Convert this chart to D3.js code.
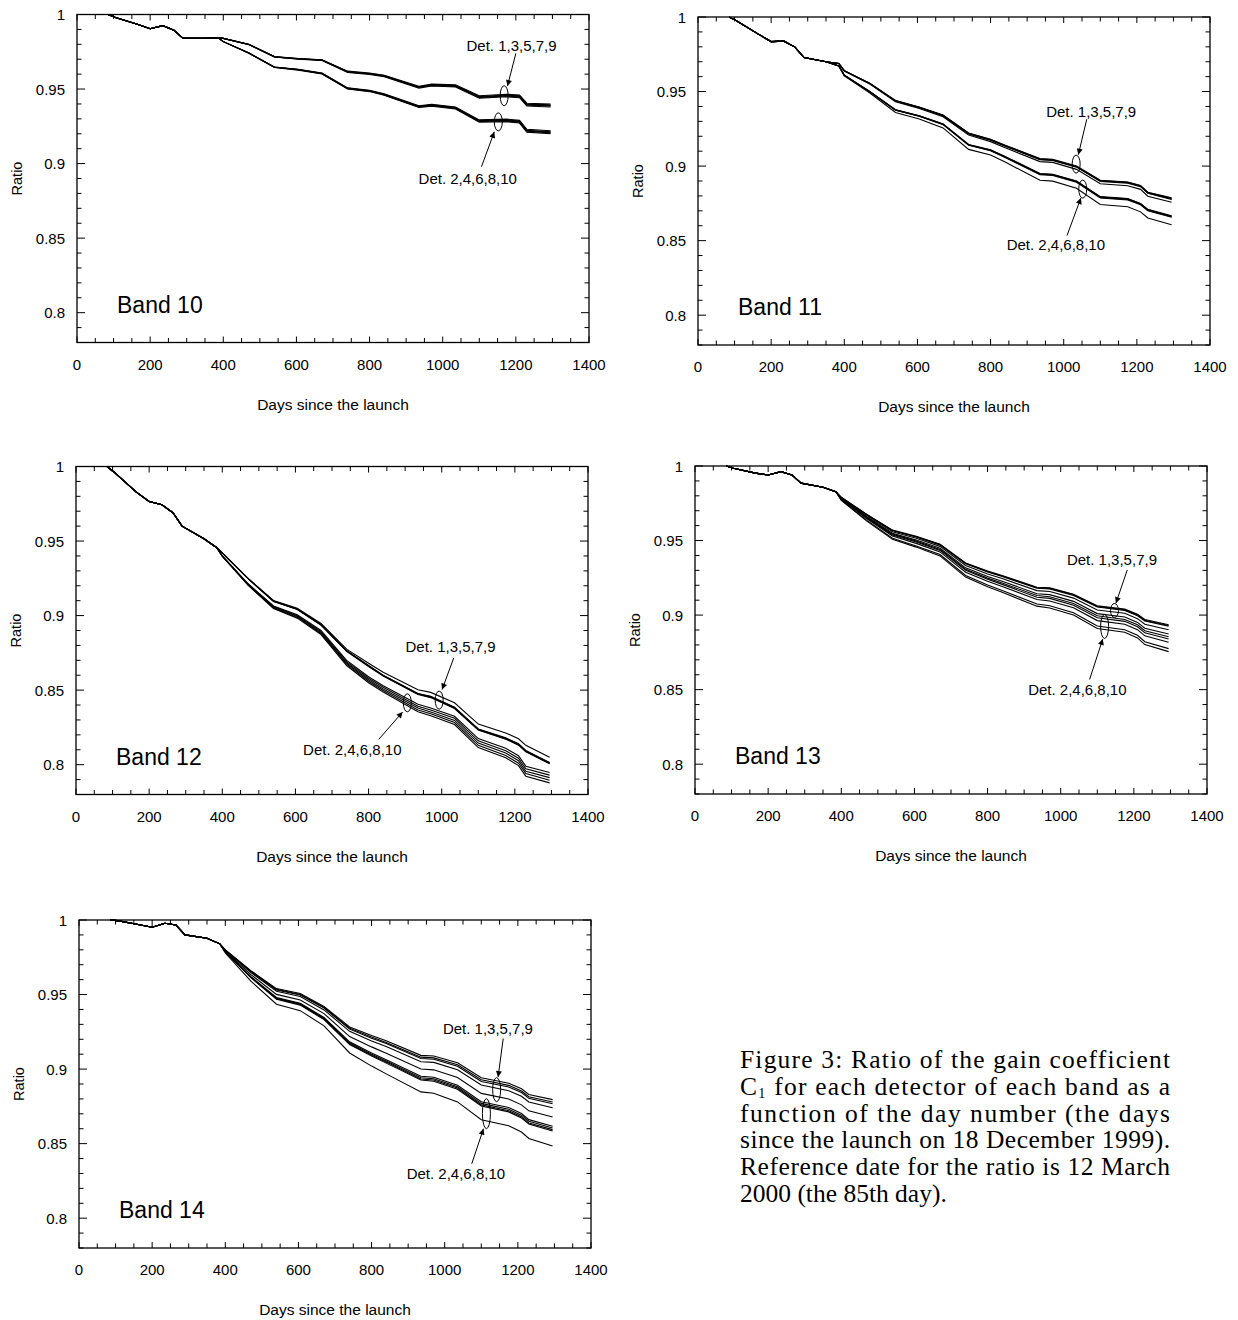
<!DOCTYPE html>
<html>
<head>
<meta charset="utf-8">
<script src="https://cdn.jsdelivr.net/npm/d3@7"></script>
<style>
body { margin: 0; background: #fff; }
svg { display: block; }
.lbl { font-family: "Liberation Sans", Arial, sans-serif; fill: #000; }
.cap { font-family: "Liberation Serif", "Times New Roman", serif; fill: #000; }
</style>
</head>
<body>
<script>
var width = 1238,
	height = 1320;

// panel size in pixels
var pw = 512,
	ph = 328;

// Day numbers shared by every curve
var days = [85, 105, 165, 200, 235, 265, 290, 350, 385, 400, 470, 540, 605, 670, 740, 800, 840, 935, 970, 1035, 1100, 1175, 1210, 1230, 1295];

// detector order inside each band array: odd ones first, then even ones
var detectors = ["1", "3", "5", "7", "9", "2", "4", "6", "8", "10"];

var band10 = [
	[1.000, 0.998, 0.9935, 0.9905, 0.9925, 0.9895, 0.984, 0.984, 0.9845, 0.9840, 0.9800, 0.9718, 0.9705, 0.9697, 0.9620, 0.9607, 0.9593, 0.9518, 0.9533, 0.9528, 0.9455, 0.9465, 0.9460, 0.9405, 0.9400],
	[1.000, 0.998, 0.9935, 0.9905, 0.9925, 0.9895, 0.984, 0.984, 0.9845, 0.9840, 0.9799, 0.9717, 0.9704, 0.9695, 0.9618, 0.9604, 0.9590, 0.9514, 0.9529, 0.9524, 0.9450, 0.9460, 0.9455, 0.9399, 0.9394],
	[1.000, 0.998, 0.9935, 0.9905, 0.9925, 0.9895, 0.984, 0.984, 0.9845, 0.9840, 0.9799, 0.9716, 0.9703, 0.9694, 0.9616, 0.9603, 0.9588, 0.9512, 0.9527, 0.9521, 0.9447, 0.9457, 0.9451, 0.9396, 0.9390],
	[1.000, 0.998, 0.9935, 0.9905, 0.9925, 0.9895, 0.984, 0.984, 0.9845, 0.9840, 0.9799, 0.9716, 0.9702, 0.9693, 0.9614, 0.9601, 0.9586, 0.9510, 0.9524, 0.9518, 0.9444, 0.9453, 0.9447, 0.9392, 0.9386],
	[1.000, 0.998, 0.9935, 0.9905, 0.9925, 0.9895, 0.984, 0.984, 0.9845, 0.9840, 0.9798, 0.9715, 0.9700, 0.9691, 0.9612, 0.9598, 0.9583, 0.9506, 0.9520, 0.9514, 0.9439, 0.9448, 0.9442, 0.9386, 0.9380],
	[1.000, 0.998, 0.9935, 0.9905, 0.9925, 0.9895, 0.984, 0.984, 0.9845, 0.9818, 0.9742, 0.9648, 0.9632, 0.9607, 0.9508, 0.9492, 0.9468, 0.9388, 0.9398, 0.9380, 0.9293, 0.9298, 0.9290, 0.9230, 0.9220],
	[1.000, 0.998, 0.9935, 0.9905, 0.9925, 0.9895, 0.984, 0.984, 0.9845, 0.9818, 0.9741, 0.9647, 0.9631, 0.9605, 0.9506, 0.9489, 0.9465, 0.9384, 0.9394, 0.9376, 0.9288, 0.9293, 0.9285, 0.9224, 0.9214],
	[1.000, 0.998, 0.9935, 0.9905, 0.9925, 0.9895, 0.984, 0.984, 0.9845, 0.9818, 0.9741, 0.9646, 0.9630, 0.9604, 0.9504, 0.9488, 0.9463, 0.9382, 0.9392, 0.9373, 0.9285, 0.9290, 0.9281, 0.9221, 0.9210],
	[1.000, 0.998, 0.9935, 0.9905, 0.9925, 0.9895, 0.984, 0.984, 0.9845, 0.9818, 0.9741, 0.9646, 0.9629, 0.9603, 0.9502, 0.9486, 0.9461, 0.9380, 0.9389, 0.9370, 0.9282, 0.9286, 0.9277, 0.9217, 0.9206],
	[1.000, 0.998, 0.9935, 0.9905, 0.9925, 0.9895, 0.984, 0.984, 0.9845, 0.9818, 0.9740, 0.9645, 0.9627, 0.9601, 0.9500, 0.9483, 0.9458, 0.9376, 0.9385, 0.9366, 0.9277, 0.9281, 0.9272, 0.9211, 0.9200]
];

var band11 = [
	[1.000, 0.9975, 0.9885, 0.9835, 0.9838, 0.9798, 0.9728, 0.9700, 0.9688, 0.9640, 0.9555, 0.9440, 0.9397, 0.9343, 0.9222, 0.9180, 0.9140, 0.9050, 0.9045, 0.9000, 0.8905, 0.8893, 0.8870, 0.8825, 0.8787],
	[1.000, 0.9975, 0.9885, 0.9835, 0.9838, 0.9798, 0.9728, 0.9700, 0.9688, 0.9640, 0.9554, 0.9439, 0.9395, 0.9341, 0.9220, 0.9178, 0.9138, 0.9048, 0.9043, 0.8998, 0.8903, 0.8891, 0.8868, 0.8823, 0.8784],
	[1.000, 0.9975, 0.9885, 0.9835, 0.9838, 0.9798, 0.9728, 0.9700, 0.9688, 0.9639, 0.9553, 0.9437, 0.9393, 0.9339, 0.9217, 0.9175, 0.9135, 0.9045, 0.9040, 0.8995, 0.8900, 0.8888, 0.8865, 0.8820, 0.8780],
	[1.000, 0.9975, 0.9885, 0.9835, 0.9838, 0.9798, 0.9728, 0.9700, 0.9688, 0.9639, 0.9552, 0.9436, 0.9392, 0.9337, 0.9215, 0.9173, 0.9133, 0.9043, 0.9038, 0.8993, 0.8897, 0.8885, 0.8862, 0.8817, 0.8776],
	[1.000, 0.9975, 0.9885, 0.9835, 0.9838, 0.9798, 0.9728, 0.9700, 0.9688, 0.9637, 0.9550, 0.9432, 0.9387, 0.9331, 0.9208, 0.9164, 0.9123, 0.9030, 0.9025, 0.8978, 0.8881, 0.8868, 0.8844, 0.8798, 0.8758],
	[1.000, 0.9975, 0.9885, 0.9835, 0.9838, 0.9798, 0.9728, 0.9700, 0.9672, 0.9610, 0.9500, 0.9378, 0.9338, 0.9283, 0.9145, 0.9110, 0.9065, 0.8950, 0.8945, 0.8900, 0.8795, 0.8782, 0.8750, 0.8710, 0.8667],
	[1.000, 0.9975, 0.9885, 0.9835, 0.9838, 0.9798, 0.9728, 0.9700, 0.9672, 0.9610, 0.9499, 0.9377, 0.9337, 0.9282, 0.9143, 0.9108, 0.9063, 0.8948, 0.8943, 0.8898, 0.8793, 0.8780, 0.8747, 0.8707, 0.8664],
	[1.000, 0.9975, 0.9885, 0.9835, 0.9838, 0.9798, 0.9728, 0.9700, 0.9672, 0.9609, 0.9499, 0.9376, 0.9335, 0.9280, 0.9141, 0.9105, 0.9060, 0.8945, 0.8940, 0.8895, 0.8790, 0.8777, 0.8744, 0.8704, 0.8661],
	[1.000, 0.9975, 0.9885, 0.9835, 0.9838, 0.9798, 0.9728, 0.9700, 0.9672, 0.9609, 0.9498, 0.9375, 0.9334, 0.9278, 0.9139, 0.9103, 0.9058, 0.8942, 0.8937, 0.8891, 0.8786, 0.8773, 0.8740, 0.8700, 0.8657],
	[1.000, 0.9975, 0.9885, 0.9835, 0.9838, 0.9798, 0.9728, 0.9700, 0.9672, 0.9605, 0.9490, 0.9360, 0.9316, 0.9256, 0.9112, 0.9074, 0.9027, 0.8905, 0.8899, 0.8851, 0.8742, 0.8727, 0.8693, 0.8652, 0.8607]
];

var band12 = [
	[1.000, 0.9960, 0.9828, 0.9765, 0.9743, 0.9690, 0.9600, 0.9515, 0.9455, 0.9420, 0.9250, 0.9101, 0.9050, 0.8947, 0.8775, 0.8680, 0.8620, 0.8503, 0.8485, 0.8415, 0.8272, 0.8213, 0.8174, 0.8130, 0.8050],
	[1.000, 0.9960, 0.9828, 0.9765, 0.9743, 0.9690, 0.9600, 0.9515, 0.9455, 0.9420, 0.9250, 0.9098, 0.9045, 0.8940, 0.8765, 0.8665, 0.8600, 0.8478, 0.8458, 0.8385, 0.8240, 0.8180, 0.8140, 0.8095, 0.8015],
	[1.000, 0.9960, 0.9828, 0.9765, 0.9743, 0.9690, 0.9600, 0.9515, 0.9455, 0.9420, 0.9250, 0.9097, 0.9044, 0.8939, 0.8764, 0.8664, 0.8599, 0.8476, 0.8456, 0.8383, 0.8238, 0.8177, 0.8137, 0.8092, 0.8012],
	[1.000, 0.9960, 0.9828, 0.9765, 0.9743, 0.9690, 0.9600, 0.9515, 0.9455, 0.9420, 0.9249, 0.9096, 0.9043, 0.8937, 0.8762, 0.8661, 0.8596, 0.8474, 0.8453, 0.8380, 0.8235, 0.8174, 0.8134, 0.8089, 0.8009],
	[1.000, 0.9960, 0.9828, 0.9765, 0.9743, 0.9690, 0.9600, 0.9515, 0.9455, 0.9420, 0.9249, 0.9095, 0.9041, 0.8936, 0.8760, 0.8659, 0.8594, 0.8471, 0.8450, 0.8377, 0.8232, 0.8171, 0.8131, 0.8086, 0.8006],
	[1.000, 0.9960, 0.9828, 0.9765, 0.9743, 0.9690, 0.9600, 0.9515, 0.9455, 0.9400, 0.9215, 0.9065, 0.9005, 0.8900, 0.8700, 0.8590, 0.8530, 0.8405, 0.8380, 0.8325, 0.8175, 0.8110, 0.8060, 0.7990, 0.7948],
	[1.000, 0.9960, 0.9828, 0.9765, 0.9743, 0.9690, 0.9600, 0.9515, 0.9455, 0.9400, 0.9213, 0.9061, 0.8999, 0.8893, 0.8691, 0.8580, 0.8519, 0.8392, 0.8367, 0.8311, 0.8160, 0.8094, 0.8043, 0.7973, 0.7930],
	[1.000, 0.9960, 0.9828, 0.9765, 0.9743, 0.9690, 0.9600, 0.9515, 0.9455, 0.9399, 0.9210, 0.9056, 0.8994, 0.8886, 0.8682, 0.8570, 0.8508, 0.8380, 0.8354, 0.8297, 0.8145, 0.8078, 0.8027, 0.7956, 0.7913],
	[1.000, 0.9960, 0.9828, 0.9765, 0.9743, 0.9690, 0.9600, 0.9515, 0.9455, 0.9399, 0.9207, 0.9051, 0.8988, 0.8880, 0.8674, 0.8560, 0.8498, 0.8367, 0.8341, 0.8283, 0.8130, 0.8062, 0.8010, 0.7940, 0.7895],
	[1.000, 0.9960, 0.9828, 0.9765, 0.9743, 0.9690, 0.9600, 0.9515, 0.9455, 0.9398, 0.9205, 0.9047, 0.8983, 0.8873, 0.8665, 0.8550, 0.8487, 0.8355, 0.8328, 0.8269, 0.8115, 0.8046, 0.7994, 0.7923, 0.7878]
];

var band13 = [
	[1.000, 0.9985, 0.9952, 0.9940, 0.9962, 0.9940, 0.9885, 0.9858, 0.9828, 0.9790, 0.9675, 0.9570, 0.9528, 0.9475, 0.9350, 0.9295, 0.9265, 0.9187, 0.9183, 0.9140, 0.9062, 0.9040, 0.9005, 0.8970, 0.8935],
	[1.000, 0.9985, 0.9952, 0.9940, 0.9962, 0.9940, 0.9885, 0.9858, 0.9828, 0.9789, 0.9674, 0.9568, 0.9526, 0.9473, 0.9347, 0.9292, 0.9262, 0.9183, 0.9179, 0.9136, 0.9058, 0.9036, 0.9001, 0.8965, 0.8930],
	[1.000, 0.9985, 0.9952, 0.9940, 0.9962, 0.9940, 0.9885, 0.9858, 0.9828, 0.9789, 0.9673, 0.9567, 0.9524, 0.9471, 0.9345, 0.9289, 0.9259, 0.9180, 0.9175, 0.9132, 0.9054, 0.9031, 0.8996, 0.8961, 0.8925],
	[1.000, 0.9985, 0.9952, 0.9940, 0.9962, 0.9940, 0.9885, 0.9858, 0.9828, 0.9786, 0.9667, 0.9559, 0.9515, 0.9461, 0.9333, 0.9276, 0.9245, 0.9164, 0.9158, 0.9114, 0.9034, 0.9012, 0.8976, 0.8939, 0.8902],
	[1.000, 0.9985, 0.9952, 0.9940, 0.9962, 0.9940, 0.9885, 0.9858, 0.9828, 0.9783, 0.9660, 0.9549, 0.9503, 0.9448, 0.9317, 0.9259, 0.9227, 0.9143, 0.9137, 0.9092, 0.9010, 0.8987, 0.8951, 0.8912, 0.8873],
	[1.000, 0.9985, 0.9952, 0.9940, 0.9962, 0.9940, 0.9885, 0.9858, 0.9828, 0.9781, 0.9655, 0.9543, 0.9496, 0.9440, 0.9308, 0.9248, 0.9215, 0.9131, 0.9123, 0.9078, 0.8995, 0.8971, 0.8935, 0.8895, 0.8855],
	[1.000, 0.9985, 0.9952, 0.9940, 0.9962, 0.9940, 0.9885, 0.9858, 0.9828, 0.9779, 0.9651, 0.9537, 0.9490, 0.9434, 0.9300, 0.9240, 0.9206, 0.9120, 0.9112, 0.9066, 0.8982, 0.8958, 0.8922, 0.8881, 0.8840],
	[1.000, 0.9985, 0.9952, 0.9940, 0.9962, 0.9940, 0.9885, 0.9858, 0.9828, 0.9777, 0.9646, 0.9530, 0.9481, 0.9424, 0.9288, 0.9227, 0.9192, 0.9104, 0.9095, 0.9049, 0.8963, 0.8939, 0.8902, 0.8861, 0.8818],
	[1.000, 0.9985, 0.9952, 0.9940, 0.9962, 0.9940, 0.9885, 0.9858, 0.9828, 0.9772, 0.9635, 0.9515, 0.9464, 0.9406, 0.9266, 0.9202, 0.9165, 0.9074, 0.9063, 0.9016, 0.8927, 0.8902, 0.8865, 0.8821, 0.8775],
	[1.000, 0.9985, 0.9952, 0.9940, 0.9962, 0.9940, 0.9885, 0.9858, 0.9828, 0.9770, 0.9630, 0.9508, 0.9456, 0.9397, 0.9255, 0.9190, 0.9153, 0.9060, 0.9048, 0.9000, 0.8910, 0.8885, 0.8847, 0.8802, 0.8755]
];

var band14 = [
	[1.000, 0.9996, 0.9968, 0.9951, 0.9978, 0.9966, 0.9900, 0.9878, 0.9840, 0.9800, 0.9660, 0.9540, 0.9507, 0.9420, 0.9283, 0.9225, 0.9190, 0.9092, 0.9088, 0.9042, 0.8942, 0.8905, 0.8868, 0.8830, 0.8795],
	[1.000, 0.9996, 0.9968, 0.9951, 0.9978, 0.9966, 0.9900, 0.9878, 0.9840, 0.9799, 0.9656, 0.9535, 0.9501, 0.9413, 0.9274, 0.9215, 0.9179, 0.9080, 0.9075, 0.9029, 0.8928, 0.8891, 0.8853, 0.8815, 0.8779],
	[1.000, 0.9996, 0.9968, 0.9951, 0.9978, 0.9966, 0.9900, 0.9878, 0.9840, 0.9798, 0.9654, 0.9531, 0.9497, 0.9409, 0.9268, 0.9207, 0.9171, 0.9071, 0.9066, 0.9019, 0.8917, 0.8880, 0.8843, 0.8804, 0.8768],
	[1.000, 0.9996, 0.9968, 0.9951, 0.9978, 0.9966, 0.9900, 0.9878, 0.9840, 0.9797, 0.9648, 0.9522, 0.9487, 0.9397, 0.9253, 0.9189, 0.9151, 0.9049, 0.9045, 0.8996, 0.8893, 0.8855, 0.8818, 0.8779, 0.8741],
	[1.000, 0.9996, 0.9968, 0.9951, 0.9978, 0.9966, 0.9900, 0.9878, 0.9840, 0.9793, 0.9634, 0.9501, 0.9464, 0.9372, 0.9218, 0.9149, 0.9107, 0.9001, 0.8995, 0.8944, 0.8837, 0.8799, 0.8760, 0.8720, 0.8679],
	[1.000, 0.9996, 0.9968, 0.9951, 0.9978, 0.9966, 0.9900, 0.9878, 0.9840, 0.9789, 0.9620, 0.9480, 0.9441, 0.9346, 0.9183, 0.9108, 0.9063, 0.8952, 0.8945, 0.8892, 0.8781, 0.8742, 0.8702, 0.8661, 0.8617],
	[1.000, 0.9996, 0.9968, 0.9951, 0.9978, 0.9966, 0.9900, 0.9878, 0.9840, 0.9788, 0.9617, 0.9476, 0.9437, 0.9341, 0.9176, 0.9100, 0.9054, 0.8942, 0.8935, 0.8882, 0.8770, 0.8731, 0.8691, 0.8650, 0.8605],
	[1.000, 0.9996, 0.9968, 0.9951, 0.9978, 0.9966, 0.9900, 0.9878, 0.9840, 0.9787, 0.9615, 0.9472, 0.9433, 0.9336, 0.9170, 0.9093, 0.9047, 0.8934, 0.8927, 0.8873, 0.8760, 0.8721, 0.8681, 0.8639, 0.8594],
	[1.000, 0.9996, 0.9968, 0.9951, 0.9978, 0.9966, 0.9900, 0.9878, 0.9840, 0.9787, 0.9613, 0.9469, 0.9429, 0.9332, 0.9165, 0.9087, 0.9040, 0.8927, 0.8919, 0.8865, 0.8752, 0.8713, 0.8672, 0.8631, 0.8585],
	[1.000, 0.9996, 0.9968, 0.9951, 0.9978, 0.9966, 0.9900, 0.9878, 0.9840, 0.9780, 0.9590, 0.9435, 0.9392, 0.9290, 0.9108, 0.9020, 0.8968, 0.8847, 0.8838, 0.8780, 0.8660, 0.8620, 0.8578, 0.8535, 0.8484]
];

var bandNames = ["Band 10", "Band 11", "Band 12", "Band 13", "Band 14"];
var bandData = [band10, band11, band12, band13, band14];

// Annotations in data units: text anchor, ellipse centre, arrow start and end
var oddNotes = [
	{ text: [1065, 0.9788], ell: [1168, 0.9455], from: [1200, 0.9739], to: [1177, 0.9520] },
	{ text: [952, 0.9363], ell: [1034, 0.9013], from: [1063, 0.9314], to: [1040, 0.9076] },
	{ text: [901, 0.8788], ell: [993, 0.8433], from: [1033, 0.8717], to: [1001, 0.8504] },
	{ text: [1017, 0.9370], ell: [1147, 0.9031], from: [1182, 0.9303], to: [1151, 0.9080] },
	{ text: [995, 0.9272], ell: [1142, 0.8862], from: [1160, 0.9205], to: [1146, 0.8947] }
];
var evenNotes = [
	{ text: [934, 0.8900], ell: [1152, 0.9280], from: [1106, 0.8979], to: [1141, 0.9213] },
	{ text: [844, 0.8468], ell: [1052, 0.8846], from: [1009, 0.8534], to: [1047, 0.8786] },
	{ text: [621, 0.8096], ell: [906, 0.8415], from: [828, 0.8170], to: [893, 0.8353] },
	{ text: [911, 0.8500], ell: [1120, 0.8924], from: [1079, 0.8568], to: [1115, 0.8840] },
	{ text: [896, 0.8298], ell: [1114, 0.8701], from: [1074, 0.8365], to: [1106, 0.8600] }
];
var ellipseRy = [[10, 9], [9, 9], [9, 9], [7, 12], [12, 15]];

// frame position of each panel (top-left corner)
var panels = [
	{ left: 77, top: 14.5 },
	{ left: 698, top: 17 },
	{ left: 76, top: 466.5 },
	{ left: 695, top: 466 },
	{ left: 79, top: 920 }
];

var svg = d3.select("body").append("svg")
	.attr("width", width)
	.attr("height", height);

svg.append("defs").append("marker")
	.attr("id", "arrow")
	.attr("viewBox", "0 0 10 10")
	.attr("refX", 10)
	.attr("refY", 5)
	.attr("markerUnits", "userSpaceOnUse")
	.attr("markerWidth", 10)
	.attr("markerHeight", 6)
	.attr("orient", "auto")
	.append("path")
		.attr("d", "M0,0 L10,5 L0,10 z")
		.attr("fill", "black");

var x = d3.scaleLinear().domain([0, 1400]).range([0, pw]);
var y = d3.scaleLinear().domain([0.78, 1.0]).range([ph, 0]);

var line = d3.line()
	.x(function(d, i) { return x(days[i]); })
	.y(function(d) { return y(d); });

var xMinor = d3.range(0, 1401, 50);
var yMinor = d3.range(78, 101).map(function(v) { return v / 100; });
var xMajor = d3.range(0, 1401, 200);
var yMajor = [0.8, 0.85, 0.9, 0.95, 1.0];

bandData.forEach(function(series, b) {
	var p = panels[b];
	var g = svg.append("g")
		.attr("transform", "translate(" + p.left + "," + p.top + ")");

	// ticks on all four sides, pointing inwards
	xMinor.forEach(function(t) {
		var len = (t % 200 === 0) ? 6 : 4.5;
		g.append("line").attr("x1", x(t)).attr("x2", x(t)).attr("y1", ph).attr("y2", ph - len)
			.attr("stroke", "black").attr("stroke-width", 1);
		g.append("line").attr("x1", x(t)).attr("x2", x(t)).attr("y1", 0).attr("y2", len)
			.attr("stroke", "black").attr("stroke-width", 1);
	});
	yMinor.forEach(function(t) {
		var major = Math.round(t * 100) % 5 === 0;
		var len = major ? 8 : 4.5;
		g.append("line").attr("x1", 0).attr("x2", len).attr("y1", y(t)).attr("y2", y(t))
			.attr("stroke", "black").attr("stroke-width", 1);
		g.append("line").attr("x1", pw).attr("x2", pw - len).attr("y1", y(t)).attr("y2", y(t))
			.attr("stroke", "black").attr("stroke-width", 1);
	});

	g.append("rect")
		.attr("width", pw)
		.attr("height", ph)
		.attr("fill", "none")
		.attr("stroke", "black")
		.attr("stroke-width", 1.3);

	// tick labels
	g.selectAll(".xl").data(xMajor).enter().append("text")
		.attr("class", "lbl")
		.attr("x", function(d) { return x(d); })
		.attr("y", ph + 27)
		.attr("text-anchor", "middle")
		.style("font-size", "15px")
		.text(function(d) { return d; });
	g.selectAll(".yl").data(yMajor).enter().append("text")
		.attr("class", "lbl")
		.attr("x", -12)
		.attr("y", function(d) { return y(d) + 5.5; })
		.attr("text-anchor", "end")
		.style("font-size", "15px")
		.text(function(d) { return String(+d.toFixed(2)); });

	// axis titles
	g.append("text")
		.attr("class", "lbl")
		.attr("x", pw / 2)
		.attr("y", ph + 67)
		.attr("text-anchor", "middle")
		.style("font-size", "15.5px")
		.text("Days since the launch");
	g.append("text")
		.attr("class", "lbl")
		.attr("transform", "translate(" + (-55) + "," + (ph / 2) + ") rotate(-90)")
		.attr("text-anchor", "middle")
		.style("font-size", "14.5px")
		.text("Ratio");

	// detector curves
	g.selectAll(".curve").data(series).enter().append("path")
		.attr("d", line)
		.attr("fill", "none")
		.attr("stroke", "black")
		.attr("stroke-width", 1.1);

	// band name
	g.append("text")
		.attr("class", "lbl")
		.attr("x", 40)
		.attr("y", y(0.8))
		.style("font-size", "23px")
		.text(bandNames[b]);

	// group annotations
	[[oddNotes[b], "Det. 1,3,5,7,9", ellipseRy[b][0]], [evenNotes[b], "Det. 2,4,6,8,10", ellipseRy[b][1]]].forEach(function(n) {
		var note = n[0];
		g.append("text")
			.attr("class", "lbl")
			.attr("x", x(note.text[0]))
			.attr("y", y(note.text[1]) + 5)
			.style("font-size", "15px")
			.text(n[1]);
		g.append("ellipse")
			.attr("cx", x(note.ell[0]))
			.attr("cy", y(note.ell[1]))
			.attr("rx", 4)
			.attr("ry", n[2])
			.attr("fill", "none")
			.attr("stroke", "black")
			.attr("stroke-width", 1);
		g.append("line")
			.attr("x1", x(note.from[0]))
			.attr("y1", y(note.from[1]))
			.attr("x2", x(note.to[0]))
			.attr("y2", y(note.to[1]))
			.attr("stroke", "black")
			.attr("stroke-width", 1)
			.attr("marker-end", "url(#arrow)");
	});
});

// Figure caption, justified lines
var captionLines = [
	"Figure 3: Ratio of the gain coefficient",
	"C1 for each detector of each band as a",
	"function of the day number (the days",
	"since the launch on 18 December 1999).",
	"Reference date for the ratio is 12 March",
	"2000 (the 85th day)."
];
var capX = 740, capY = 1068, capLead = 26.8, capW = 430;

captionLines.forEach(function(s, i) {
	var t = svg.append("text")
		.attr("class", "cap")
		.attr("x", capX)
		.attr("y", capY + i * capLead)
		.style("font-size", "25.5px");
	if (i < captionLines.length - 1) {
		t.attr("textLength", capW).attr("lengthAdjust", "spacing");
	}
	if (i === 1) {
		t.append("tspan").text("C");
		t.append("tspan").attr("dy", 3).style("font-size", "14px").text("1");
		t.append("tspan").attr("dy", -3).text(s.slice(2));
	} else {
		t.text(s);
	}
});
</script>
</body>
</html>
